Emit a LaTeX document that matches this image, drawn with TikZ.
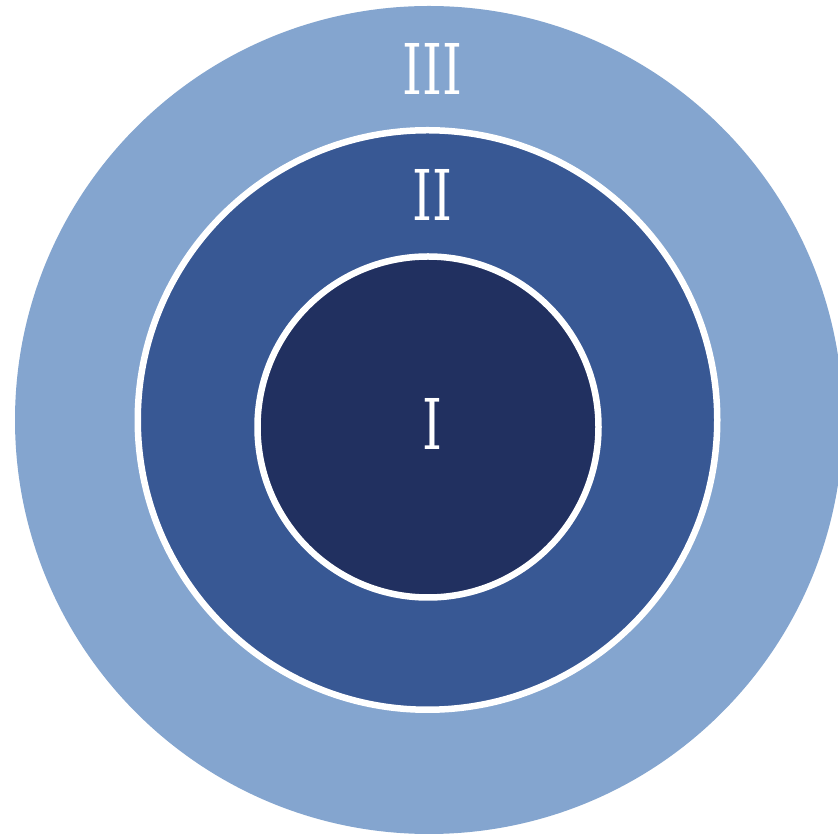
\documentclass[tikz,border=0pt]{standalone}
\usepackage{fontspec}
\newfontfamily\numfont{DejaVu Serif}
\definecolor{ringout}{RGB}{132,165,207}
\definecolor{ringmid}{RGB}{56,88,148}
\definecolor{ringin}{RGB}{33,48,96}
\tikzset{
  numeral/.style={text=white, inner sep=0pt, font=\numfont\fontsize{70}{70}\selectfont},
  sep/.style={draw=white, line width=6.5pt}
}
\newcommand{\narrow}[1]{\scalebox{0.72}[1]{#1}}
\begin{document}
\begin{tikzpicture}[x=1pt,y=1pt]
\useasboundingbox (0,0) rectangle (838,835);
\clip (0,0) rectangle (838,835);
\fill[white] (0,0) rectangle (838,835);
\fill[ringout] (429,415) circle[radius=414];
\fill[ringmid, sep] (427.5,415) circle[radius=289.75];
\fill[ringin, sep] (428,408) circle[radius=170.5];
\node[numeral] (n3) at (432.5,766) {\narrow{III}};
\node[numeral] (n2) at (432,640.5) {\narrow{II}};
\node[numeral] (n1) at (432,411.5) {\narrow{I}};
\end{tikzpicture}
\end{document}
